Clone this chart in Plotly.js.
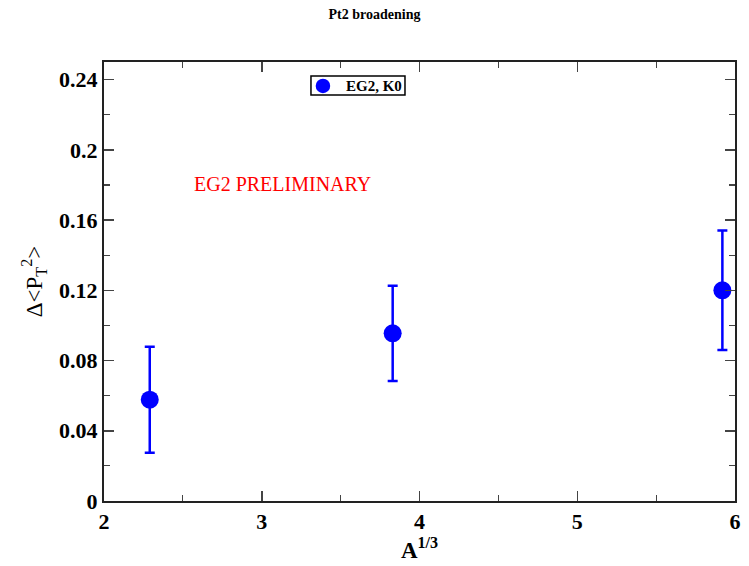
<!DOCTYPE html>
<html>
<head>
<meta charset="utf-8">
<script src="https://cdn.plot.ly/plotly-3.0.1.min.js"></script>
<style>html,body{margin:0;padding:0;background:#fff;}#chart{width:749px;height:566px;}</style>
</head>
<body>
<div id="chart"></div>
<script>
const xValues = [2.29, 3.83, 5.92];
const yValues = [0.0577, 0.0955, 0.1200];
const yErrors = [0.0302, 0.0271, 0.0340];
const seriesName = "EG2, K0";
const yTickVals = [0, 0.04, 0.08, 0.12, 0.16, 0.2, 0.24];
const yTickText = ["0", "0.04", "0.08", "0.12", "0.16", "0.2", "0.24"];
const xTickVals = [2, 3, 4, 5, 6];
const xTickText = ["2", "3", "4", "5", "6"];

const serif = "Liberation Serif, Times New Roman, serif";
const axisCommon = {
  showline: true, linecolor: "#222", linewidth: 2, mirror: "ticks",
  ticks: "inside", ticklen: 10, tickwidth: 1.5, tickcolor: "#444",
  showgrid: false, zeroline: false,
  tickfont: {family: serif, size: 22, color: "#000", weight: "bold"}
};

const trace = {
  x: xValues, y: yValues, name: seriesName,
  type: "scatter", mode: "markers", showlegend: false,
  marker: {color: "#0000ff", size: 18, symbol: "circle"},
  error_y: {type: "data", array: yErrors, visible: true, color: "#0000ff", thickness: 2.5, width: 5}
};

const layout = {
  width: 749, height: 566,
  margin: {l: 104, r: 14, t: 62, b: 65},
  paper_bgcolor: "#fff", plot_bgcolor: "#fff",
  title: {text: "<b>Pt2 broadening</b>", font: {family: serif, size: 14, color: "#000"}, x: 0.5, xref: "container", xanchor: "center", y: 0.975, yanchor: "middle"},
  xaxis: Object.assign({}, axisCommon, {
    range: [2, 6], tickvals: xTickVals, ticktext: xTickText,
    minor: {ticks: "inside", dtick: 0.5, ticklen: 6, tickcolor: "#444", tickwidth: 1.2},
    title: {text: "<b>A<sup>1/3</sup></b>", font: {family: serif, size: 23, color: "#000"}, standoff: 4}
  }),
  yaxis: Object.assign({}, axisCommon, {
    range: [0, 0.25], tickvals: yTickVals, ticktext: yTickText,
    minor: {ticks: "inside", dtick: 0.02, ticklen: 6, tickcolor: "#444", tickwidth: 1.2},
    title: {text: "Δ&lt;P<sub>T</sub><sup>2</sup>&gt;", font: {family: serif, size: 23, color: "#000"}, standoff: 10}
  }),
  showlegend: false,
  shapes: [
    {type: "rect", xref: "paper", yref: "paper", x0: 0.328, x1: 0.477, y0: 0.925, y1: 0.968,
     line: {color: "#000", width: 1.5}, fillcolor: "#fff", layer: "above"},
    {type: "circle", xref: "paper", yref: "paper", x0: 0.3355, x1: 0.3585, y0: 0.929, y1: 0.962,
     line: {color: "#0000ff", width: 0}, fillcolor: "#0000ff", layer: "above"}
  ],
  annotations: [
    {
      xref: "paper", yref: "paper", x: 0.381, y: 0.946, xanchor: "left", yanchor: "middle",
      text: "<b>" + seriesName + "</b>", showarrow: false,
      font: {family: serif, size: 15, color: "#000"}
    },
    {
      xref: "paper", yref: "paper", x: 0.139, y: 0.723, xanchor: "left", yanchor: "middle",
      text: "EG2 PRELIMINARY", showarrow: false,
      font: {family: serif, size: 20, color: "#ff0000"}
    }
  ]
};

Plotly.newPlot("chart", [trace], layout, {displayModeBar: false, staticPlot: true});
</script>
</body>
</html>
